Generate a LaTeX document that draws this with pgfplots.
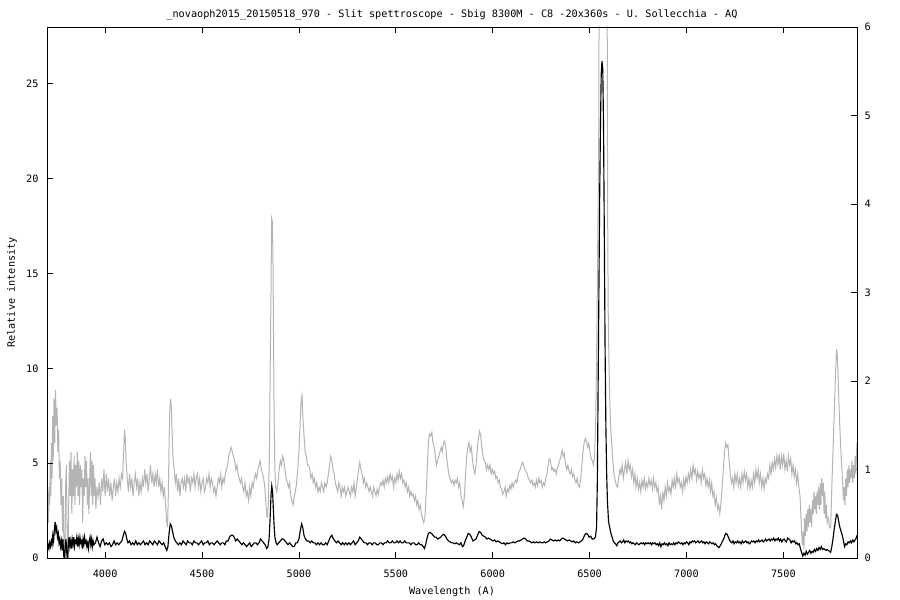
\documentclass[border=0pt]{standalone}
\usepackage{fontspec}
\setmainfont{DejaVu Sans Mono}
\usepackage{pgfplots}
\usepackage{pgfplotstable}
\pgfplotsset{compat=1.18}
\definecolor{specgray}{RGB}{180,180,180}

% relative intensity (left axis)
\pgfplotstableread{
x y
3702 0.4
3706 0.7
3710 0.5
3714 0.8
3718 0.6
3722 0.9
3726 0.7
3730 1.2
3734 0.9
3738 1.5
3742 1.9
3746 1.4
3750 1.6
3754 1.1
3758 1.3
3762 0.8
3766 1.0
3770 0.6
3774 0.9
3778 0.4
3782 1.0
3786 0.2
3790 -0.3
3794 0.6
3798 1.0
3802 0.3
3806 -0.2
3810 0.7
3814 1.1
3818 0.6
3822 0.9
3826 0.5
3830 1.0
3834 0.7
3838 1.1
3842 0.6
3846 0.9
3850 0.8
3854 1.1
3858 0.6
3862 1.0
3866 0.7
3870 1.1
3874 0.8
3878 0.9
3882 0.5
3886 1.0
3890 0.7
3894 1.1
3898 0.8
3902 0.9
3906 0.6
3910 0.8
3914 0.5
3918 0.9
3922 1.1
3926 0.7
3930 1.0
3934 0.6
3938 0.9
3942 0.7
3950 0.8
3958 1.1
3966 0.8
3974 0.6
3982 0.9
3990 1.0
3998 0.7
4006 0.8
4014 0.7
4022 0.8
4030 0.6
4038 0.7
4046 0.9
4054 0.7
4062 0.8
4070 0.7
4078 0.8
4086 0.9
4094 1.2
4100 1.4
4106 1.3
4112 1.0
4118 0.8
4126 0.9
4134 0.7
4142 0.8
4150 0.7
4158 0.9
4166 0.7
4174 0.8
4182 0.7
4190 0.8
4198 0.9
4206 0.7
4214 0.8
4222 0.7
4230 0.9
4238 0.8
4246 0.7
4254 0.9
4262 0.8
4270 0.7
4278 0.9
4286 0.8
4294 0.7
4302 0.8
4310 0.6
4318 0.4
4324 0.6
4330 1.3
4336 1.8
4342 1.7
4348 1.4
4354 1.1
4362 0.9
4370 0.8
4378 0.7
4386 0.8
4394 0.7
4402 0.9
4410 0.8
4418 0.7
4426 0.9
4434 0.8
4442 0.8
4450 0.7
4458 0.9
4466 0.8
4474 0.8
4482 0.7
4490 0.8
4498 0.9
4506 0.7
4514 0.8
4522 0.8
4530 0.9
4538 0.7
4546 0.8
4554 0.8
4562 0.7
4570 0.8
4578 0.9
4586 0.8
4594 0.7
4602 0.8
4610 0.8
4618 0.7
4626 0.9
4634 0.9
4642 1.1
4650 1.2
4658 1.2
4666 1.1
4674 0.9
4682 1.0
4690 0.9
4698 0.8
4706 0.7
4714 0.8
4722 0.7
4730 0.6
4738 0.7
4746 0.8
4754 0.6
4762 0.7
4770 0.8
4778 0.8
4786 0.7
4794 0.8
4802 1.0
4810 0.9
4818 0.8
4826 0.7
4834 0.5
4840 0.6
4846 1.0
4851 2.0
4856 3.3
4860 3.8
4864 3.5
4868 2.6
4872 1.7
4876 1.1
4882 0.8
4888 0.7
4896 0.8
4904 0.9
4912 1.0
4920 1.0
4928 0.9
4936 0.8
4944 0.7
4952 0.8
4960 0.7
4968 0.6
4976 0.6
4984 0.8
4992 0.8
5000 1.0
5008 1.5
5014 1.8
5020 1.6
5026 1.2
5034 1.0
5042 0.9
5050 0.9
5058 0.8
5066 0.9
5074 0.8
5082 0.8
5090 0.7
5098 0.8
5106 0.7
5114 0.8
5122 0.7
5130 0.7
5138 0.8
5146 0.7
5154 0.9
5162 1.1
5170 1.2
5178 1.0
5186 0.9
5194 0.8
5202 0.9
5210 0.8
5218 0.7
5226 0.8
5234 0.7
5242 0.8
5250 0.7
5258 0.8
5266 0.7
5274 0.8
5282 0.9
5290 0.7
5298 0.8
5306 0.9
5314 1.1
5322 1.0
5330 0.9
5338 0.8
5346 0.8
5354 0.7
5362 0.8
5370 0.8
5378 0.7
5386 0.8
5394 0.8
5402 0.7
5410 0.7
5418 0.8
5426 0.8
5434 0.7
5442 0.8
5450 0.8
5458 0.9
5466 0.8
5474 0.8
5482 0.9
5490 0.8
5498 0.8
5506 0.9
5514 0.8
5522 0.9
5530 0.8
5538 0.8
5546 0.9
5554 0.8
5562 0.8
5570 0.8
5578 0.7
5586 0.8
5594 0.8
5602 0.7
5610 0.7
5618 0.8
5626 0.7
5634 0.7
5642 0.6
5648 0.5
5654 0.7
5660 1.0
5668 1.3
5676 1.35
5684 1.3
5692 1.2
5700 1.1
5708 1.1
5716 1.0
5724 1.05
5732 1.1
5740 1.2
5748 1.25
5756 1.15
5764 1.0
5772 0.9
5780 0.85
5788 0.8
5796 0.8
5804 0.75
5812 0.8
5820 0.75
5828 0.7
5836 0.8
5844 0.6
5850 0.65
5858 0.9
5866 1.1
5874 1.3
5882 1.25
5890 1.1
5898 0.9
5906 0.95
5914 1.0
5922 1.2
5930 1.4
5938 1.35
5946 1.2
5954 1.15
5962 1.1
5970 1.0
5978 1.05
5986 1.0
5994 0.95
6002 0.9
6010 0.95
6018 0.85
6026 0.9
6034 0.85
6042 0.8
6050 0.75
6058 0.8
6066 0.7
6074 0.8
6082 0.75
6090 0.8
6098 0.8
6106 0.85
6114 0.8
6122 0.85
6130 0.9
6138 0.9
6146 0.95
6154 1.0
6162 1.05
6170 1.0
6178 0.9
6186 0.9
6194 0.85
6202 0.8
6210 0.85
6218 0.8
6226 0.85
6234 0.8
6242 0.85
6250 0.8
6258 0.8
6266 0.85
6274 0.8
6282 0.85
6290 0.9
6298 1.0
6306 0.95
6314 0.9
6322 0.95
6330 0.9
6338 0.95
6346 0.9
6354 1.0
6362 1.05
6370 1.0
6378 0.95
6386 0.9
6394 0.95
6402 0.9
6410 0.85
6418 0.9
6426 0.8
6434 0.85
6442 0.8
6450 0.85
6458 0.9
6466 1.0
6474 1.2
6482 1.3
6490 1.25
6498 1.1
6506 1.15
6514 1.0
6522 1.0
6530 1.1
6536 1.6
6540 4.0
6544 9.0
6548 14.0
6552 19.0
6556 22.7
6560 25.5
6564 26.2
6568 25.8
6572 22.7
6576 17.0
6580 11.0
6584 7.0
6588 4.5
6592 3.0
6598 1.9
6604 1.6
6610 1.3
6616 1.1
6622 0.9
6628 0.8
6634 0.75
6640 0.65
6646 0.8
6652 0.85
6658 0.9
6664 0.8
6670 0.85
6676 0.95
6682 0.8
6688 0.9
6694 0.85
6700 0.9
6706 0.8
6712 0.85
6718 0.75
6724 0.8
6730 0.75
6736 0.7
6742 0.8
6748 0.75
6754 0.7
6760 0.75
6766 0.8
6772 0.75
6778 0.8
6784 0.7
6790 0.8
6796 0.75
6802 0.8
6808 0.75
6814 0.8
6820 0.7
6826 0.8
6832 0.75
6838 0.8
6844 0.7
6850 0.75
6856 0.65
6862 0.8
6868 0.6
6874 0.75
6880 0.7
6886 0.8
6892 0.7
6898 0.75
6904 0.65
6910 0.8
6916 0.7
6922 0.75
6928 0.7
6934 0.8
6940 0.7
6946 0.8
6952 0.75
6958 0.85
6964 0.8
6970 0.75
6976 0.8
6982 0.7
6988 0.8
6994 0.75
7000 0.85
7006 0.8
7012 0.7
7018 0.85
7024 0.8
7030 0.9
7036 0.85
7042 0.9
7048 0.8
7054 0.85
7060 0.9
7066 0.8
7072 0.85
7078 0.9
7084 0.8
7090 0.85
7096 0.75
7102 0.85
7108 0.8
7114 0.75
7120 0.85
7126 0.8
7132 0.75
7138 0.8
7144 0.7
7150 0.75
7156 0.65
7162 0.6
7168 0.55
7174 0.65
7180 0.75
7186 0.9
7192 1.0
7198 1.2
7204 1.3
7210 1.25
7216 1.1
7222 0.95
7228 0.85
7234 0.8
7240 0.9
7246 0.75
7252 0.85
7258 0.8
7264 0.9
7270 0.8
7276 0.85
7282 0.75
7288 0.9
7294 0.8
7300 0.85
7306 0.9
7312 0.8
7318 0.85
7324 0.75
7330 0.8
7336 0.9
7342 0.85
7348 0.9
7354 0.8
7360 0.9
7366 0.85
7372 0.95
7378 0.85
7384 0.9
7390 0.95
7396 0.85
7402 0.9
7408 1.0
7414 0.9
7420 0.95
7426 1.0
7432 0.9
7438 1.0
7444 0.95
7450 1.05
7456 0.9
7462 1.0
7468 0.95
7474 1.05
7480 0.9
7486 1.0
7492 0.85
7498 0.95
7504 1.0
7510 0.9
7516 0.85
7522 1.05
7528 1.0
7534 0.95
7540 0.8
7546 0.9
7552 0.85
7558 0.9
7564 0.75
7570 0.8
7576 0.7
7582 0.75
7588 0.5
7594 0.3
7600 0.1
7606 0.25
7612 0.15
7618 0.35
7624 0.2
7630 0.3
7636 0.4
7642 0.25
7648 0.35
7654 0.3
7660 0.45
7666 0.35
7672 0.5
7678 0.4
7684 0.55
7690 0.45
7696 0.6
7702 0.45
7708 0.5
7714 0.45
7720 0.4
7726 0.45
7732 0.4
7738 0.35
7744 0.3
7750 0.6
7756 1.0
7762 1.5
7768 1.9
7774 2.3
7780 2.25
7786 1.9
7792 1.6
7798 1.4
7804 1.2
7810 0.9
7816 0.6
7822 0.75
7828 0.7
7834 0.85
7840 0.8
7846 0.9
7852 0.8
7858 0.95
7864 0.85
7870 0.95
7876 1.05
7880 1.2
}\blackdata

% normalised spectrum (right axis)
\pgfplotstableread{
x y
3702 0.5
3705 0.75
3708 0.4
3711 0.8
3714 0.6
3717 1.1
3720 0.7
3723 1.3
3726 0.9
3729 1.6
3732 1.1
3736 1.8
3740 1.3
3744 1.9
3748 1.5
3752 1.7
3756 1.2
3760 1.45
3764 0.9
3768 1.1
3772 0.6
3776 0.9
3780 0.3
3784 0.7
3788 0.0
3792 -0.2
3796 0.8
3800 1.05
3804 0.3
3808 -0.2
3812 0.6
3816 1.1
3820 0.7
3824 1.2
3828 0.5
3832 1.0
3836 0.7
3840 1.15
3844 0.6
3848 1.05
3852 0.8
3856 1.2
3860 0.7
3864 1.1
3868 0.6
3872 1.05
3876 0.8
3880 1.0
3884 0.4
3888 0.9
3892 0.7
3896 1.15
3900 0.8
3904 1.1
3908 0.6
3912 0.9
3916 0.5
3920 0.85
3924 1.2
3928 0.7
3932 1.1
3936 0.6
3940 1.05
3944 0.7
3948 0.9
3952 0.55
3958 0.8
3964 0.7
3970 0.85
3976 0.6
3982 0.9
3988 0.75
3994 1.0
4000 0.7
4006 0.95
4012 0.75
4018 0.9
4024 0.7
4030 0.85
4036 0.65
4042 0.8
4048 0.9
4054 0.7
4060 0.85
4066 0.75
4072 0.9
4078 0.8
4084 0.95
4090 0.9
4096 1.2
4100 1.45
4104 1.35
4108 1.1
4114 0.9
4120 0.75
4126 0.95
4132 0.8
4138 0.9
4144 0.7
4150 0.85
4156 0.95
4162 0.8
4168 0.9
4174 0.7
4180 0.85
4186 0.75
4192 0.9
4198 0.8
4204 1.0
4210 0.85
4216 0.95
4222 0.75
4228 0.9
4234 1.05
4240 0.85
4246 0.95
4252 0.8
4258 0.95
4264 0.85
4270 1.0
4276 0.8
4282 0.9
4288 0.75
4294 0.85
4300 0.7
4306 0.8
4312 0.6
4318 0.4
4322 0.35
4326 0.7
4330 1.3
4334 1.7
4338 1.8
4342 1.7
4346 1.4
4350 1.15
4356 1.0
4362 0.85
4368 0.95
4374 0.75
4380 0.9
4386 0.7
4392 0.85
4398 0.9
4404 0.8
4410 0.9
4416 0.75
4422 0.95
4428 0.85
4434 0.9
4440 0.75
4446 0.9
4452 0.85
4458 0.95
4464 0.8
4470 0.9
4476 0.95
4482 0.8
4488 0.9
4494 0.75
4500 0.85
4506 0.9
4512 0.75
4518 0.8
4524 0.9
4530 0.85
4536 0.95
4542 0.8
4548 0.9
4554 0.85
4560 0.75
4566 0.8
4572 0.7
4578 0.8
4584 0.9
4590 0.85
4596 0.95
4602 0.8
4608 0.9
4614 0.85
4620 0.95
4626 1.0
4632 1.05
4638 1.15
4644 1.2
4650 1.25
4656 1.2
4662 1.15
4668 1.1
4674 1.0
4680 1.05
4686 0.95
4692 0.9
4698 0.85
4704 0.9
4710 0.8
4716 0.75
4722 0.85
4728 0.7
4734 0.75
4740 0.65
4746 0.8
4752 0.7
4758 0.85
4764 0.8
4770 0.9
4776 0.95
4782 0.9
4788 1.0
4794 1.05
4800 1.1
4806 1.0
4812 0.95
4818 0.9
4824 0.8
4830 0.6
4836 0.45
4842 0.6
4848 1.2
4852 2.2
4856 3.0
4859 3.84
4863 3.8
4866 3.4
4869 2.5
4872 1.6
4876 1.0
4880 0.8
4886 0.75
4892 0.85
4898 1.0
4904 1.1
4910 1.05
4916 1.15
4922 1.1
4928 1.0
4934 0.9
4940 0.85
4946 0.8
4952 0.85
4958 0.7
4964 0.65
4970 0.6
4976 0.7
4982 0.75
4988 0.85
4994 1.0
5000 1.2
5006 1.5
5012 1.8
5016 1.84
5020 1.6
5026 1.4
5032 1.2
5038 1.15
5044 1.05
5050 1.05
5056 1.0
5062 0.9
5068 0.95
5074 0.85
5080 0.9
5086 0.8
5092 0.85
5098 0.75
5104 0.8
5110 0.75
5116 0.85
5122 0.8
5128 0.75
5134 0.85
5140 0.8
5146 0.85
5152 0.95
5158 1.05
5164 1.15
5170 1.1
5176 1.0
5182 0.95
5188 0.85
5194 0.8
5200 0.75
5206 0.85
5212 0.8
5218 0.7
5224 0.8
5230 0.75
5236 0.8
5242 0.7
5248 0.75
5254 0.8
5260 0.75
5266 0.7
5272 0.8
5278 0.75
5284 0.85
5290 0.7
5296 0.8
5302 0.9
5308 1.0
5314 1.08
5320 1.0
5326 0.95
5332 0.85
5338 0.9
5344 0.8
5350 0.85
5356 0.8
5362 0.75
5368 0.8
5374 0.75
5380 0.7
5386 0.8
5392 0.75
5398 0.7
5404 0.78
5410 0.72
5416 0.8
5422 0.85
5428 0.82
5434 0.88
5440 0.8
5446 0.9
5452 0.85
5458 0.92
5464 0.85
5470 0.95
5476 0.88
5482 0.92
5488 0.8
5494 0.9
5500 0.85
5506 0.95
5512 0.88
5518 0.98
5524 0.9
5530 0.95
5536 0.85
5542 0.88
5548 0.8
5554 0.85
5560 0.75
5566 0.8
5572 0.7
5578 0.75
5584 0.7
5590 0.72
5596 0.65
5602 0.7
5608 0.6
5614 0.65
5620 0.55
5626 0.6
5632 0.5
5638 0.45
5644 0.4
5650 0.45
5656 0.7
5662 1.0
5668 1.3
5674 1.4
5680 1.38
5686 1.42
5692 1.3
5698 1.25
5704 1.15
5710 1.05
5716 1.1
5722 1.15
5728 1.2
5734 1.25
5740 1.2
5746 1.3
5752 1.32
5758 1.25
5764 1.1
5770 1.0
5776 0.92
5782 0.88
5788 0.85
5794 0.88
5800 0.82
5806 0.88
5812 0.85
5818 0.9
5824 0.8
5830 0.85
5836 0.7
5842 0.65
5848 0.58
5854 0.7
5860 0.95
5866 1.15
5872 1.25
5878 1.3
5884 1.2
5890 1.25
5896 1.1
5902 1.0
5908 0.95
5914 1.05
5920 1.2
5926 1.35
5932 1.43
5938 1.38
5944 1.25
5950 1.15
5956 1.1
5962 1.08
5968 1.0
5974 1.05
5980 1.0
5986 1.05
5992 0.95
5998 1.0
6004 0.95
6010 0.98
6016 0.9
6022 0.92
6028 0.85
6034 0.88
6040 0.8
6046 0.78
6052 0.72
6058 0.75
6064 0.8
6070 0.7
6076 0.78
6082 0.75
6088 0.82
6094 0.78
6100 0.85
6106 0.8
6112 0.85
6118 0.88
6124 0.85
6130 0.92
6136 0.98
6142 1.0
6148 1.05
6154 1.08
6160 1.05
6166 1.0
6172 0.98
6178 0.95
6184 0.9
6190 0.88
6196 0.85
6202 0.88
6208 0.82
6214 0.85
6220 0.8
6226 0.88
6232 0.82
6238 0.9
6244 0.85
6250 0.88
6256 0.8
6262 0.85
6268 0.82
6274 0.9
6280 0.95
6286 1.05
6292 1.12
6298 1.1
6304 1.0
6310 1.02
6316 0.98
6322 1.0
6328 0.95
6334 1.02
6340 1.05
6346 1.1
6352 1.15
6358 1.22
6364 1.15
6370 1.18
6376 1.05
6382 1.0
6388 1.05
6394 0.98
6400 0.95
6406 1.0
6412 0.92
6418 0.95
6424 0.88
6430 0.85
6436 0.9
6442 0.82
6448 0.8
6454 0.9
6460 1.05
6466 1.2
6472 1.3
6478 1.35
6484 1.32
6490 1.25
6496 1.3
6502 1.2
6508 1.12
6514 1.1
6520 1.05
6526 1.15
6532 1.6
6538 2.6
6544 4.0
6547 4.6
6550 7.0
6590 7.0
6593 4.0
6596 2.8
6600 2.2
6604 1.8
6608 1.5
6614 1.3
6620 1.1
6626 0.95
6632 0.88
6638 0.82
6644 0.8
6650 0.9
6656 1.0
6662 0.95
6668 1.05
6674 0.9
6680 1.0
6686 1.08
6692 0.95
6698 1.1
6704 1.0
6710 1.05
6716 0.92
6722 1.0
6728 0.85
6734 0.95
6740 0.8
6746 0.9
6752 0.78
6758 0.85
6764 0.75
6770 0.88
6776 0.8
6782 0.9
6788 0.78
6794 0.85
6800 0.8
6806 0.9
6812 0.82
6818 0.88
6824 0.78
6830 0.9
6836 0.8
6842 0.85
6848 0.75
6854 0.8
6860 0.6
6866 0.7
6872 0.55
6878 0.75
6884 0.65
6890 0.8
6896 0.7
6902 0.85
6908 0.75
6914 0.8
6920 0.72
6926 0.88
6932 0.8
6938 0.9
6944 0.78
6950 0.95
6956 0.85
6962 0.9
6968 0.8
6974 0.85
6980 0.75
6986 0.9
6992 0.8
6998 0.92
7004 0.85
7010 0.95
7016 0.88
7022 1.0
7028 0.9
7034 1.05
7040 0.95
7046 1.0
7052 0.88
7058 0.98
7064 0.9
7070 0.95
7076 0.85
7082 1.0
7088 0.9
7094 0.95
7100 0.82
7106 0.9
7112 0.8
7118 0.88
7124 0.75
7130 0.85
7136 0.7
7142 0.75
7148 0.6
7154 0.68
7160 0.55
7166 0.6
7172 0.5
7178 0.62
7184 0.8
7190 1.0
7196 1.2
7202 1.3
7208 1.25
7214 1.28
7220 1.1
7226 0.95
7232 0.85
7238 0.9
7244 0.8
7250 0.95
7256 0.85
7262 0.95
7268 0.82
7274 0.9
7280 0.8
7286 0.95
7292 0.85
7298 0.98
7304 0.88
7310 0.95
7316 0.8
7322 0.9
7328 0.78
7334 0.88
7340 0.8
7346 0.95
7352 0.85
7358 1.0
7364 0.9
7370 1.0
7376 0.85
7382 0.95
7388 0.8
7394 0.9
7400 0.78
7406 0.9
7412 0.85
7418 0.95
7424 0.9
7430 1.05
7436 0.95
7442 1.08
7448 1.0
7454 1.12
7460 1.02
7466 1.15
7472 1.05
7478 1.18
7484 1.0
7490 1.15
7496 1.05
7502 1.18
7508 1.0
7514 1.1
7520 0.98
7526 1.15
7532 1.05
7538 1.12
7544 0.95
7550 1.05
7556 0.92
7562 1.0
7568 0.85
7574 0.95
7580 0.8
7586 0.7
7590 0.5
7594 0.3
7598 0.15
7602 0.3
7606 0.1
7610 0.45
7614 0.25
7618 0.5
7622 0.3
7626 0.55
7630 0.35
7634 0.6
7638 0.4
7642 0.55
7646 0.35
7650 0.65
7654 0.5
7658 0.75
7662 0.55
7666 0.7
7670 0.5
7674 0.75
7678 0.6
7682 0.8
7686 0.55
7690 0.85
7694 0.6
7698 0.9
7702 0.7
7706 0.85
7710 0.5
7714 0.75
7718 0.45
7722 0.6
7726 0.4
7732 0.45
7738 0.35
7744 0.34
7750 0.8
7756 1.2
7762 1.6
7768 2.0
7774 2.36
7778 2.3
7782 2.1
7786 1.8
7790 1.55
7794 1.35
7798 1.15
7802 1.0
7806 0.85
7810 0.65
7814 0.8
7818 0.6
7822 0.9
7826 0.7
7830 1.0
7834 0.8
7838 1.05
7842 0.85
7846 1.0
7850 0.9
7854 1.1
7858 0.85
7862 1.05
7866 0.9
7870 1.15
7874 0.95
7878 1.2
7880 1.3
}\graydata

\pgfplotsset{
  specaxis/.style={
    at={(47pt,42pt)}, anchor=south west,
    scale only axis, width=810pt, height=531pt,
    xmin=3700, xmax=7880,
    tick align=inside, major tick length=6pt,
    tick style={black, line width=0.8pt},
    axis line style={black, line width=0.9pt},
    /pgf/number format/assume math mode=true,
    /pgf/number format/1000 sep={},
    font=\fontsize{10.2}{12}\selectfont,
    ticklabel style={font=\fontsize{10.2}{12}\selectfont},
  }
}

\begin{document}
\begin{tikzpicture}
\path[use as bounding box] (0,0) rectangle (900pt,600pt);

% grey spectrum on the right axis
\begin{axis}[specaxis,
  ymin=0, ymax=6,
  hide x axis,
  axis y line*=right,
  ytick={0,1,...,6},
  yticklabel style={xshift=4pt},
]
\addplot[specgray, line width=1pt] table {\graydata};
\end{axis}

% black spectrum on the left axis
\begin{axis}[specaxis,
  ymin=0, ymax=28,
  ytick={0,5,...,25}, ytick pos=left,
  xtick={4000,4500,...,7500}, xtick pos=both,
  xticklabel pos=bottom,
  yticklabel style={xshift=-5pt},
  xticklabel style={yshift=-8pt},
  title={\_novaoph2015\_20150518\_970 - Slit spettroscope - Sbig 8300M -  C8 -20x360s  - U. Sollecchia - AQ},
  title style={at={(axis description cs:0.5,1)}, anchor=center, yshift=6pt},
  xlabel={Wavelength (A)},
  xlabel style={at={(axis description cs:0.5,0)}, anchor=center, yshift=-34pt},
  ylabel={Relative intensity},
  ylabel style={at={(axis description cs:-0.0432,0.5)}, anchor=center},
]
\addplot[black, line width=1.15pt] table {\blackdata};
\end{axis}
\end{tikzpicture}
\end{document}
